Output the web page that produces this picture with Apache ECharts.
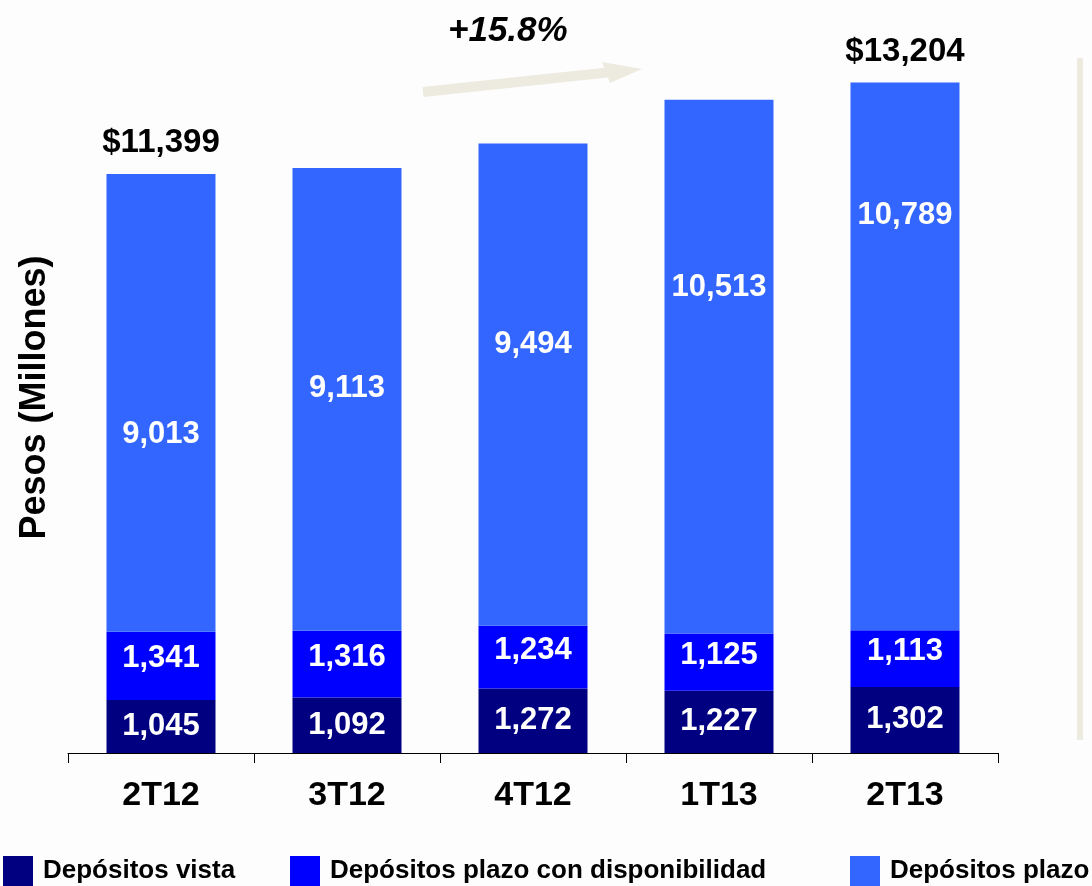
<!DOCTYPE html>
<html>
<head>
<meta charset="utf-8">
<script src="https://cdn.jsdelivr.net/npm/echarts@6/dist/echarts.min.js"></script>
<style>
  html, body { margin: 0; padding: 0; background: #fdfdfd; }
  #main { width: 1092px; height: 886px; }
</style>
</head>
<body>
<div id="main"></div>
<script>
var categories = ['2T12', '3T12', '4T12', '1T13', '2T13'];
var vista = [1045, 1092, 1272, 1227, 1302];
var plazoDisp = [1341, 1316, 1234, 1125, 1113];
var plazo = [9013, 9113, 9494, 10513, 10789];
var totals = [11399, null, null, null, 13204];
var growthText = '+15.8%';

// label shifts for the big segment, as in the original slide
var plazoLabelShift = [31, -11, -40, -79, -141];

var FONT = 'Liberation Sans, Arial, sans-serif';

var myChart = echarts.init(document.getElementById('main'));

var segLabel = {
  show: true,
  position: 'inside',
  color: '#fff',
  fontFamily: FONT,
  fontWeight: 'bold',
  fontSize: 31,
  formatter: function (p) { return p.value.toLocaleString('en-US'); }
};

myChart.setOption({
  backgroundColor: '#fdfdfd',
  animation: false,
  grid: { left: 68, right: 94, top: 42, bottom: 133 },
  xAxis: {
    type: 'category',
    data: categories,
    axisLine: { lineStyle: { color: '#000', width: 1 } },
    axisTick: { show: true, length: 10, lineStyle: { color: '#000' } },
    axisLabel: {
      color: '#000', fontFamily: FONT, fontWeight: 'bold', fontSize: 34, margin: 26
    }
  },
  yAxis: {
    type: 'value',
    min: 0,
    max: 14000,
    name: 'Pesos (Millones)',
    nameLocation: 'middle',
    nameGap: 15,
    nameTextStyle: { color: '#000', fontFamily: FONT, fontWeight: 'bold', fontSize: 36 },
    axisLine: { show: false },
    axisTick: { show: false },
    axisLabel: { show: false },
    splitLine: { show: false }
  },
  legend: [
    { data: ['Depósitos vista'], left: -2 },
    { data: ['Depósitos plazo con disponibilidad'], left: 285 },
    { data: ['Depósitos plazo'], left: 845 }
  ].map(function (l) {
    return Object.assign(l, {
      top: 851,
      icon: 'rect', itemWidth: 30, itemHeight: 30,
      textStyle: { color: '#000', fontFamily: FONT, fontWeight: 'bold', fontSize: 26, padding: [0, 0, 0, 5] }
    });
  }),
  graphic: [
    {
      type: 'polyline',
      shape: { points: [[423, 92], [612, 72]] },
      style: { stroke: '#edeadf', lineWidth: 10, fill: null }
    },
    {
      type: 'polygon',
      shape: { points: [[602, 62], [642, 69], [610, 83]] },
      style: { fill: '#edeadf' }
    },
    {
      type: 'text',
      left: 448, top: 14,
      style: { text: growthText, fill: '#000', font: 'italic bold 35px ' + FONT }
    },
    {
      type: 'rect',
      shape: { x: 1077, y: 58, width: 6, height: 682 },
      style: { fill: '#edeadf' }
    }
  ],
  series: [
    {
      name: 'Depósitos vista',
      type: 'bar',
      stack: 'dep',
      barWidth: '58.6%',
      itemStyle: { color: '#000080' },
      label: segLabel,
      data: vista
    },
    {
      name: 'Depósitos plazo con disponibilidad',
      type: 'bar',
      stack: 'dep',
      itemStyle: { color: '#0000ff' },
      label: Object.assign({}, segLabel, { offset: [0, -7] }),
      data: plazoDisp
    },
    {
      name: 'Depósitos plazo',
      type: 'bar',
      stack: 'dep',
      itemStyle: { color: '#3366ff' },
      label: segLabel,
      data: plazo.map(function (v, i) {
        return { value: v, label: { offset: [0, plazoLabelShift[i]] } };
      })
    },
    {
      name: 'total',
      type: 'scatter',
      symbolSize: 1,
      silent: true,
      itemStyle: { color: 'rgba(0,0,0,0)', opacity: 1 },
      label: {
        show: true,
        position: 'top',
        distance: 14,
        color: '#000',
        fontFamily: FONT,
        fontWeight: 'bold',
        fontSize: 33,
        formatter: function (p) { return '$' + p.value.toLocaleString('en-US'); }
      },
      data: totals
    }
  ]
});
</script>
</body>
</html>
